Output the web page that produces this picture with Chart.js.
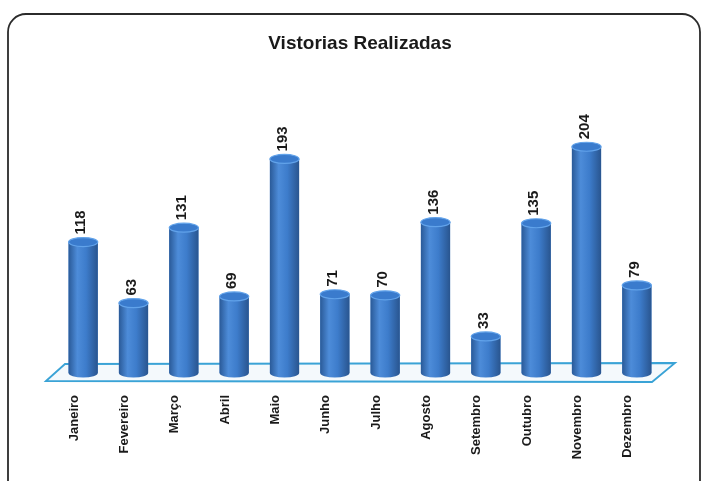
<!DOCTYPE html>
<html>
<head>
<meta charset="utf-8">
<script src="https://cdn.jsdelivr.net/npm/chart.js@4/dist/chart.umd.min.js"></script>
<style>
html, body { margin: 0; padding: 0; background: #fff; }
#wrap { width: 702px; height: 481px; }
</style>
</head>
<body>
<div id="wrap"><canvas id="grafico" width="702" height="481"></canvas></div>
<script>
const meses = ["Janeiro", "Fevereiro", "Março", "Abril", "Maio", "Junho", "Julho", "Agosto", "Setembro", "Outubro", "Novembro", "Dezembro"];
const vistorias = [118, 63, 131, 69, 193, 71, 70, 136, 33, 135, 204, 79];
const titulo = "Vistorias Realizadas";

// gradiente horizontal de cada cilindro
function corCilindro(ctx, x, w) {
  let g = ctx.createLinearGradient(x - w / 2, 0, x + w / 2, 0);
  g.addColorStop(0, "#2a5a98");
  g.addColorStop(0.3, "#4d8cd9");
  g.addColorStop(0.6, "#3d7ccb");
  g.addColorStop(1, "#29558f");
  return g;
}

// moldura arredondada + piso + cilindros
const moldura = {
  id: "moldura",
  beforeDraw(chart) {
    const c = chart.ctx;
    c.save();
    c.fillStyle = "#fff";
    c.fillRect(0, 0, chart.width, chart.height);
    c.strokeStyle = "#2b2b2b";
    c.lineWidth = 1.8;
    c.beginPath();
    c.roundRect(8, 14, 692, 500, 18);
    c.stroke();
    c.restore();
  },
  beforeDatasetsDraw(chart) {
    const c = chart.ctx;
    const a = chart.chartArea;
    const y0 = chart.scales.y.getPixelForValue(0);
    c.save();
    c.beginPath();
    c.moveTo(a.left - 12, y0 + 8);
    c.lineTo(a.left + 7, y0 - 9);
    c.lineTo(a.right + 13, y0 - 10);
    c.lineTo(a.right - 10, y0 + 9);
    c.closePath();
    c.fillStyle = "#f4f9fc";
    c.fill();
    c.strokeStyle = "#3aa3d6";
    c.lineWidth = 1.8;
    c.stroke();
    c.restore();
  },
  afterDatasetsDraw(chart) {
    const c = chart.ctx;
    const meta = chart.getDatasetMeta(0);
    c.save();
    meta.data.forEach((bar, i) => {
      const w = bar.width;
      const ry = 4.5;
      // corpo com sombreado
      c.fillStyle = corCilindro(c, bar.x, w);
      c.fillRect(bar.x - w / 2, bar.y, w, bar.base - bar.y);
      // base arredondada
      c.beginPath();
      c.ellipse(bar.x, bar.base, w / 2, ry, 0, 0, Math.PI);
      c.fill();
      // tampa
      c.beginPath();
      c.ellipse(bar.x, bar.y, w / 2, ry, 0, 0, Math.PI * 2);
      c.fillStyle = "#3a7bcd";
      c.fill();
      c.strokeStyle = "#62a3ea";
      c.lineWidth = 1.2;
      c.stroke();
      // valor
      c.translate(bar.x - 2, bar.y - ry - 3);
      c.rotate(-Math.PI / 2);
      c.fillStyle = "#1a1a1a";
      c.font = "bold 15px 'Liberation Sans', Arial, sans-serif";
      c.textAlign = "left";
      c.textBaseline = "middle";
      c.fillText(String(vistorias[i]), 0, 0);
      c.setTransform(1, 0, 0, 1, 0, 0);
    });
    c.restore();
  }
};

new Chart(document.getElementById("grafico"), {
  type: "bar",
  data: {
    labels: meses,
    datasets: [{
      label: titulo,
      data: vistorias,
      backgroundColor: "#3c7fd0",
      borderWidth: 0,
      barPercentage: 0.58,
      categoryPercentage: 1
    }]
  },
  options: {
    responsive: false,
    animation: false,
    layout: { padding: { left: 58, right: 40, top: 0, bottom: 8 } },
    plugins: {
      legend: { display: false },
      tooltip: { enabled: false },
      title: {
        display: true,
        text: titulo,
        color: "#1a1a1a",
        font: { family: "'Liberation Sans Narrow', 'Liberation Sans', Arial, sans-serif", size: 19, weight: "bold" },
        padding: { top: 32, bottom: 52 }
      }
    },
    scales: {
      x: {
        grid: { display: false, drawTicks: false },
        border: { display: false },
        afterFit: (axis) => { axis.height = 100; },
        ticks: {
          minRotation: 90,
          maxRotation: 90,
          padding: 22,
          labelOffset: -9,
          autoSkip: false,
          color: "#1a1a1a",
          font: { family: "'Liberation Sans', Arial, sans-serif", size: 13, weight: "bold" }
        }
      },
      y: {
        display: false,
        min: 0,
        max: 240
      }
    }
  },
  plugins: [moldura]
});
</script>
</body>
</html>
